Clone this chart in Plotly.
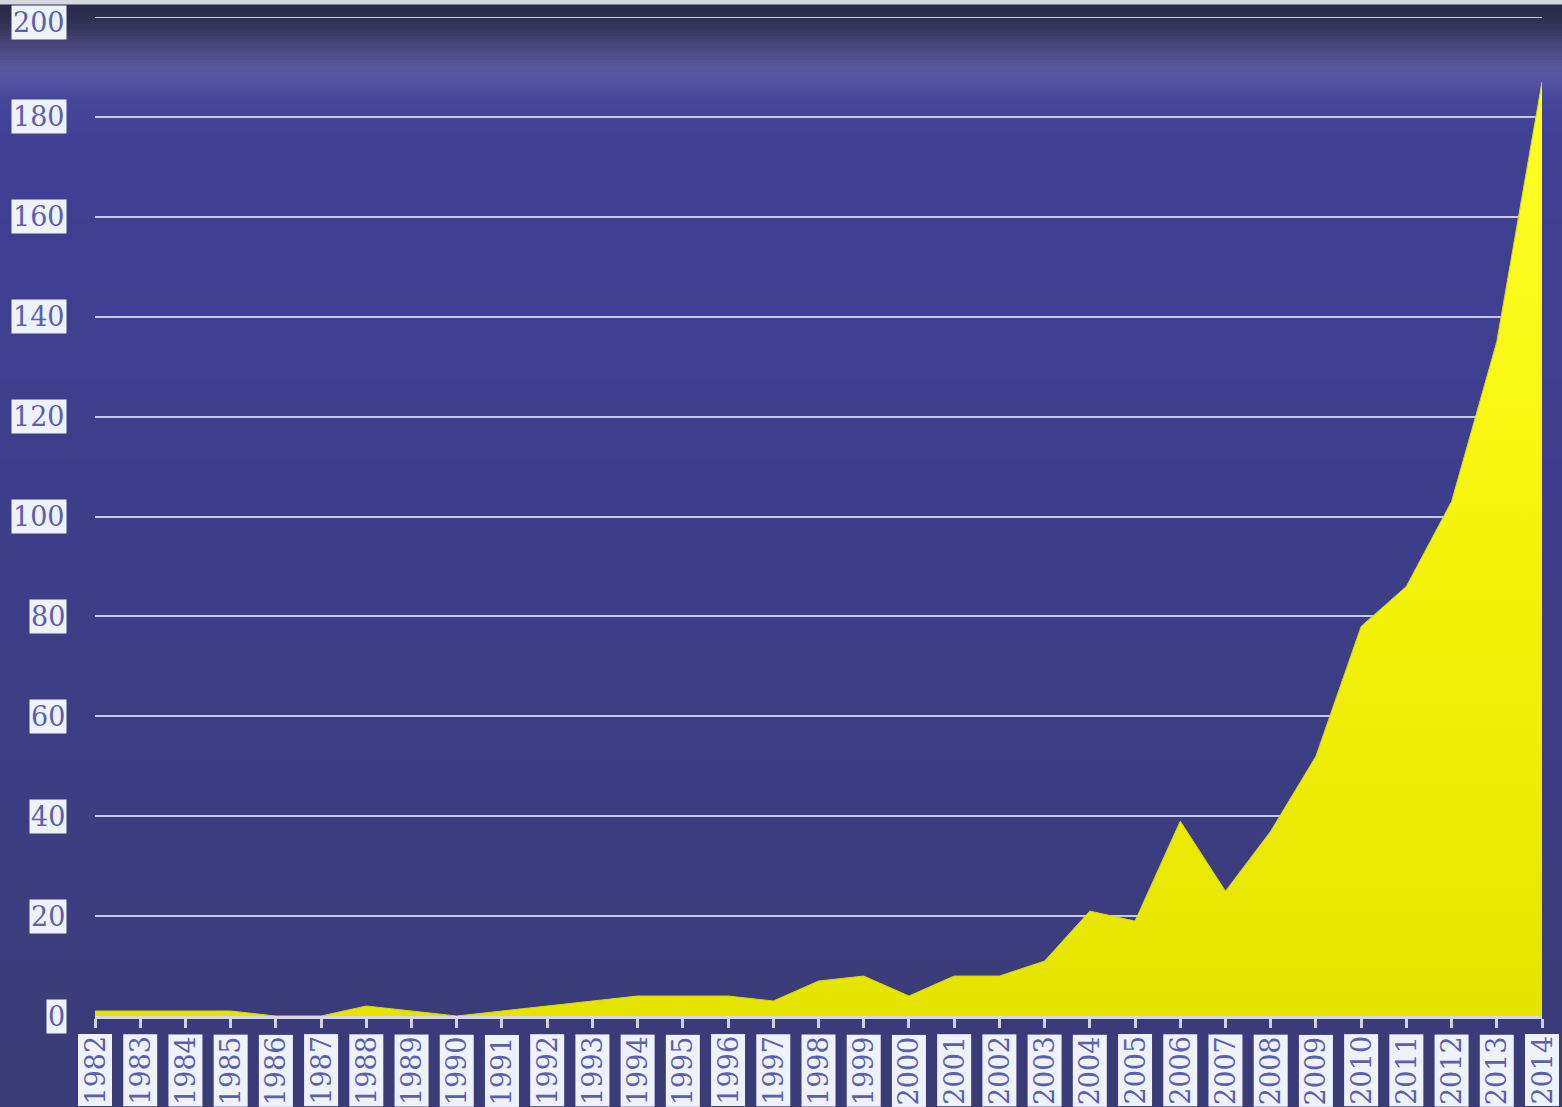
import plotly.graph_objects as go

# Yearly counts, 1982-2014
years = list(range(1982, 2015))
counts = [1, 1, 1, 1, 0, 0, 2, 1, 0, 1, 2, 3, 4, 4, 4, 3, 7, 8, 4, 8,
          8, 11, 21, 19, 39, 25, 37, 52, 78, 86, 103, 135, 187]
y_ticks = [0, 20, 40, 60, 80, 100, 120, 140, 160, 180, 200]

W, H = 1562, 1107
ML, MR, MT, MB = 95, 20, 17, 91
PW, PH = W - ML - MR, H - MT - MB

LABEL_FONT = dict(family="DejaVu Serif", size=27, color="#5b60aa")
LABEL_BG = "#eef2fa"
GRID_COLOR = "#c8c8ea"

fig = go.Figure()

fig.add_trace(go.Scatter(
    x=years, y=counts, mode="lines",
    line=dict(width=1, color="#d8d800"),
    fill="tozeroy",
    fillgradient=dict(type="vertical", start=0, stop=190,
                      colorscale=[[0, "#e4e400"], [0.5, "#f4f40a"], [1, "#ffff2a"]]),
    hoverinfo="x+y", showlegend=False,
))

# Background: vertical colour ramp built from thin bands (pixel rows, top -> bottom)
stops = [(0, (214, 214, 224)), (4, (214, 214, 224)), (5, (42, 42, 72)),
         (14, (44, 44, 76)), (30, (56, 56, 96)), (48, (74, 74, 130)),
         (68, (88, 88, 160)), (80, (84, 84, 162)), (100, (70, 70, 154)),
         (135, (64, 64, 148)), (300, (62, 63, 144)), (600, (60, 62, 136)),
         (900, (59, 61, 126)), (1107, (58, 60, 118))]


def color_at(py):
    for (y0, c0), (y1, c1) in zip(stops, stops[1:]):
        if y0 <= py <= y1:
            t = 0 if y1 == y0 else (py - y0) / (y1 - y0)
            return tuple(round(a + (b - a) * t) for a, b in zip(c0, c1))
    return stops[-1][1]


def px_to_paper_y(py):
    return (H - MB - py) / PH


shapes = []
bands = list(range(0, 6)) + list(range(6, 140, 3)) + list(range(140, 1107, 20)) + [1107]
for a, b in zip(bands, bands[1:]):
    r, g, bl = color_at((a + b) / 2)
    shapes.append(dict(
        type="rect", xref="paper", yref="paper", layer="below",
        x0=-ML / PW, x1=1 + MR / PW,
        y0=px_to_paper_y(b), y1=px_to_paper_y(a),
        line=dict(width=0), fillcolor=f"rgb({r},{g},{bl})",
    ))

# gridline at the top of the range (not drawn by the axis at its edge)
shapes.append(dict(
    type="line", xref="paper", yref="y", layer="below",
    x0=0, x1=1, y0=y_ticks[-1], y1=y_ticks[-1],
    line=dict(color=GRID_COLOR, width=2),
))

annotations = []
# y tick labels on light boxes
for v in y_ticks:
    annotations.append(dict(
        x=-28 / PW, xref="paper", xanchor="right",
        y=v, yref="y", yanchor="middle", yshift=-5 if v == 200 else 0,
        text=str(v), showarrow=False, font=LABEL_FONT,
        bgcolor=LABEL_BG, borderpad=1,
    ))
# x tick labels, rotated, on light boxes
for yr in years:
    annotations.append(dict(
        x=yr, xref="x", xanchor="center",
        y=-18 / PH, yref="paper", yanchor="top",
        text=str(yr), textangle=-90, showarrow=False, font=LABEL_FONT,
        bgcolor=LABEL_BG, borderpad=1,
    ))

fig.update_layout(
    width=W, height=H,
    margin=dict(l=ML, r=MR, t=MT, b=MB),
    paper_bgcolor="#3a3c76",
    plot_bgcolor="rgba(0,0,0,0)",
    shapes=shapes,
    annotations=annotations,
    xaxis=dict(
        range=[1982, 2014], dtick=1, tick0=1982,
        showgrid=False, zeroline=False,
        showline=True, linecolor="#d6d6e6", linewidth=3,
        ticks="outside", ticklen=9, tickwidth=3, tickcolor="#d0d0e2",
        showticklabels=False, fixedrange=True,
    ),
    yaxis=dict(
        range=[0, 200], dtick=20,
        showgrid=True, gridcolor=GRID_COLOR, gridwidth=2,
        zeroline=False, showline=False, ticks="",
        showticklabels=False, fixedrange=True,
    ),
)

fig.write_html("out.html")
